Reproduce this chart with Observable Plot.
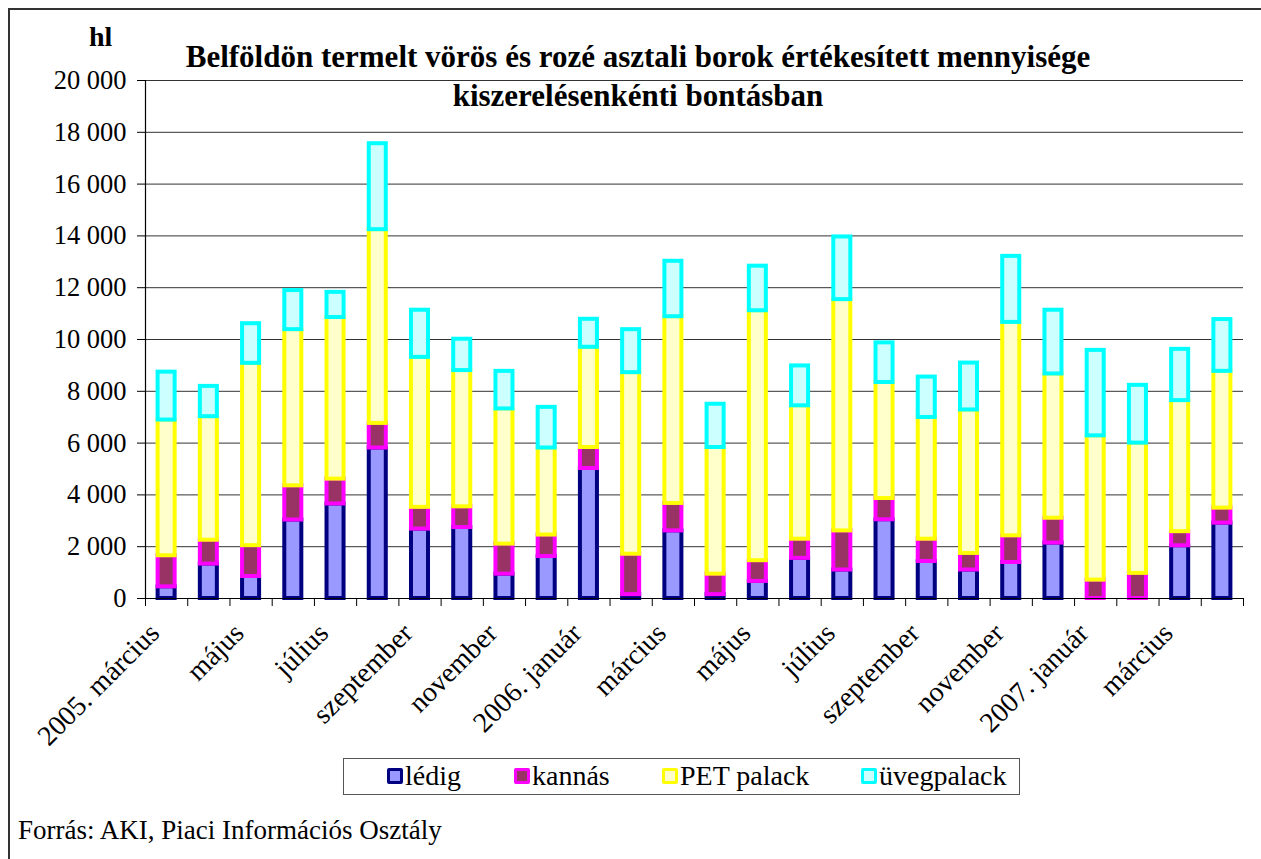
<!DOCTYPE html>
<html>
<head>
<meta charset="utf-8">
<script src="https://cdn.jsdelivr.net/npm/d3@7"></script>
<script src="https://cdn.jsdelivr.net/npm/@observablehq/plot@0.6"></script>
<style>
  html, body { margin: 0; padding: 0; background: #fff; }
  #wrap { position: relative; width: 1261px; height: 859px; overflow: hidden; font-family: "Liberation Serif", "Times New Roman", serif; color: #000; }
  #chart { position: absolute; left: 0; top: 0; }
  #frame { position: absolute; left: 8px; top: 8px; width: 1300px; height: 900px; border-left: 2px solid #333; border-top: 2px solid #333; pointer-events: none; }
  .title { position: absolute; left: 0; width: 1276px; text-align: center; font-weight: bold; font-size: 31px; line-height: 34px; white-space: nowrap; }
  #hl { position: absolute; left: 89px; top: 22px; font-weight: bold; font-size: 28px; line-height: 30px; }
  #legend { position: absolute; left: 343px; top: 758px; width: 677px; height: 37px; border: 1.5px solid #555; box-sizing: border-box; font-size: 28px; }
  .item { position: absolute; top: 1px; display: flex; align-items: center; line-height: 32px; white-space: nowrap; }
  .sw { display: inline-block; width: 10px; height: 10px; border-width: 3px; border-style: solid; border-radius: 2px; margin-right: 2px; }
  #caption { position: absolute; left: 18px; top: 815px; font-size: 27px; line-height: 30px; white-space: nowrap; }
</style>
</head>
<body>
<div id="wrap">
  <div id="chart"></div>
  <div id="hl">hl</div>
  <div class="title" style="top:40px">Belföldön termelt vörös és rozé asztali borok értékesített mennyisége</div>
  <div class="title" style="top:79px">kiszerelésenkénti bontásban</div>
  <div id="legend"></div>
  <div id="caption">Forrás: AKI, Piaci Információs Osztály</div>
  <div id="frame"></div>
</div>
<script>
// ---- data (hl) ----
const months = ["2005-03","2005-04","2005-05","2005-06","2005-07","2005-08","2005-09","2005-10","2005-11","2005-12",
                "2006-01","2006-02","2006-03","2006-04","2006-05","2006-06","2006-07","2006-08","2006-09","2006-10","2006-11","2006-12",
                "2007-01","2007-02","2007-03","2007-04"];
const tickLabels = ["2005. március","május","július","szeptember","november","2006. január","március","május","július","szeptember","november","2007. január","március"];
const seriesNames = ["lédig","kannás","PET palack","üvegpalack"];
const ledig  = [450,1330,850,3030,3650,5810,2680,2740,940,1620,5020,150,2610,150,660,1550,1100,3040,1430,1100,1390,2140,0,0,2035,2910];
const kannas = [1200,920,1190,1320,960,950,840,800,1160,830,810,1560,1060,790,800,740,1510,820,860,640,1030,960,710,970,545,580];
const pet    = [5240,4770,7040,6030,6240,7480,5790,5260,5220,3360,3870,7010,7210,4890,9650,5150,8930,4480,4700,5540,8240,5570,5570,5030,5060,5280];
const uveg   = [1850,1170,1530,1510,970,3320,1820,1210,1450,1570,1080,1660,2140,1670,1720,1540,2420,1530,1560,1810,2550,2460,3300,2230,1980,2000];
const yTicks = [0,2000,4000,6000,8000,10000,12000,14000,16000,18000,20000];

// ---- styles ----
const fills   = ["#9999FF","#993366","#FFFFCC","#CCFFFF"];
const strokes = ["#000080","#FF00FF","#FFFF00","#00FFFF"];
const serif = "'Liberation Serif','Times New Roman',serif";

const valuesBySeries = [ledig, kannas, pet, uveg];
const rows = [];
months.forEach((m, i) => {
  seriesNames.forEach((s, k) => rows.push({i, month: m, k, series: s, value: valuesBySeries[k][i]}));
});

const fmt = d => d3.format(",")(d).replace(/,/g, " ");
const labelPos = tickLabels.map((_, j) => j * 2 + 0.5);

const chart = Plot.plot({
  width: 1261,
  height: 760,
  marginTop: 80,
  marginBottom: 162,
  marginLeft: 145,
  marginRight: 18,
  style: {fontFamily: serif, fontSize: "26px", background: "transparent", overflow: "visible", color: "#000"},
  x: {domain: [0, months.length], axis: null},
  y: {domain: [0, 20000], axis: null},
  color: {type: "identity"},
  marks: [
    Plot.gridY({ticks: yTicks, stroke: "#333", strokeOpacity: 1, strokeWidth: 1}),
    Plot.rectY(rows, {
      x: "i", interval: 1, y: "value", z: "series",
      fill: d => fills[d.k], stroke: d => strokes[d.k], strokeWidth: 4,
      insetLeft: 12.6, insetRight: 12.6
    }),
    Plot.ruleX([0], {stroke: "#000", strokeWidth: 1.2}),
    Plot.ruleY([0], {stroke: "#000", strokeWidth: 1.2}),
    Plot.axisY({ticks: yTicks, tickFormat: fmt, tickSize: 8, tickPadding: 11, fontSize: 26.5, fontFamily: serif, label: null, stroke: "#000"}),
    Plot.axisX({ticks: d3.range(months.length + 1), tickSize: 8, tickFormat: () => "", label: null, stroke: "#000"}),
    Plot.axisX({ticks: labelPos, tickSize: 0, tickPadding: 30, dx: -12, tickRotate: -45, fontSize: 28, fontFamily: serif, label: null,
                tickFormat: v => tickLabels[Math.round((v - 0.5) / 2)]})
  ]
});
document.getElementById("chart").appendChild(chart);

// legend
const legend = document.getElementById("legend");
const itemX = [43, 170, 318, 517];
seriesNames.forEach((s, k) => {
  const it = document.createElement("div");
  it.className = "item";
  it.style.left = itemX[k] + "px";
  const sw = document.createElement("span");
  sw.className = "sw";
  sw.style.background = fills[k];
  sw.style.borderColor = strokes[k];
  it.appendChild(sw);
  it.appendChild(document.createTextNode(s));
  legend.appendChild(it);
});
</script>
</body>
</html>
